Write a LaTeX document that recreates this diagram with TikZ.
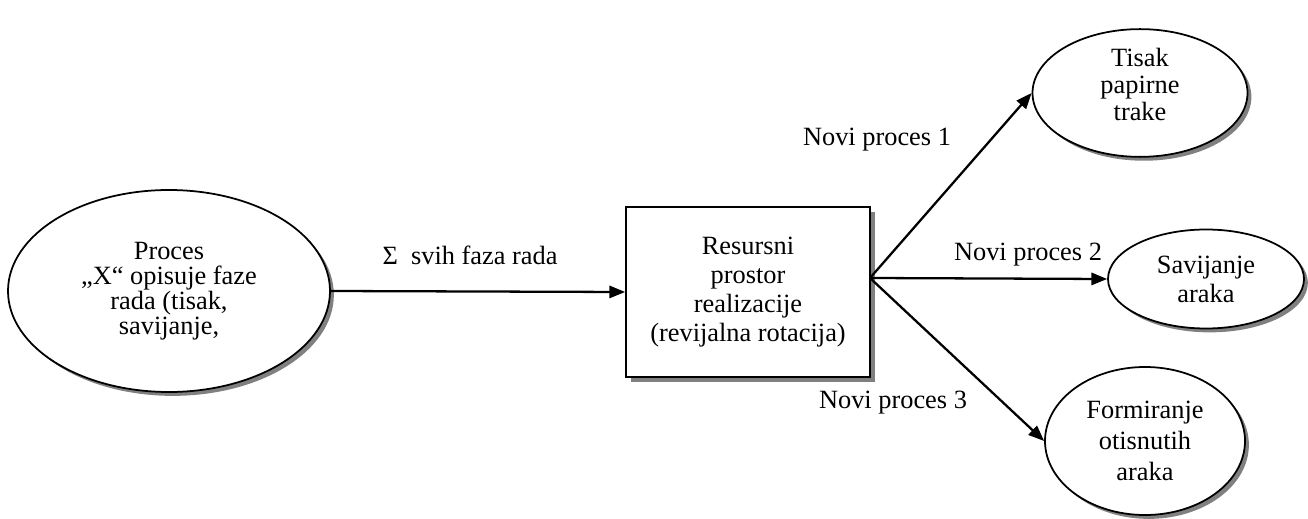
\documentclass[tikz,border=0pt]{standalone}
\usepackage{fontspec}
\setmainfont{Liberation Serif}
\usetikzlibrary{shapes.geometric,shadows,arrows.meta}

\tikzset{
  proc/.style={ellipse, draw, line width=1pt, fill=white, align=center, inner sep=0pt,
    drop shadow={shadow xshift=2.2pt, shadow yshift=-2.2pt, fill=black!50, opacity=1}},
  resbox/.style={rectangle, draw, line width=1pt, fill=white, align=center, inner sep=0pt,
    drop shadow={shadow xshift=2.6pt, shadow yshift=-2.6pt, fill=black!50, opacity=1}},
  lbl/.style={inner sep=0pt},
  >={Triangle[length=9pt,width=7pt]}
}

\begin{document}
\begin{tikzpicture}[font=\fontsize{15}{16.5}\selectfont, line width=1.3pt]
            \useasboundingbox (0, 0) rectangle (26.16, 10.36);

            \node[proc, minimum width=6.44cm, minimum height=4.04cm, font=\fontsize{15}{14.3}\selectfont] (proces) at (3.38, 4.54) {Proces\\„X“ opisuje faze\\rada (tisak,\\savijanje,};
            \node[resbox, minimum width=4.88cm, minimum height=3.40cm] (resurs) at (14.96, 4.52) {Resursni\\prostor\\realizacije\\(revijalna rotacija)};
            \coordinate (fan) at (17.40, 4.80);

            \node[proc, minimum width=4.30cm, minimum height=2.46cm, font=\fontsize{15}{15.5}\selectfont, text depth=10pt] (tisak) at (22.80, 8.50) {Tisak\\papirne\\trake};
            \node[proc, minimum width=3.92cm, minimum height=1.98cm] (savij) at (24.12, 4.78) {Savijanje\\araka};
            \node[proc, minimum width=4.00cm, minimum height=2.96cm, font=\fontsize{15}{17.5}\selectfont] (formir) at (22.90, 1.54) {Formiranje\\otisnutih\\araka};

            \node[lbl] (suma) at (9.40, 5.26) {Σ~ svih faza rada};
            \node[lbl] (novi1) at (17.54, 7.56) {Novi proces 1};
            \node[lbl] (novi2) at (20.56, 5.26) {Novi proces 2};
            \node[lbl] (novi3) at (17.86, 2.30) {Novi proces 3};

            \draw (proces.east) edge[->] (resurs.west)
                (fan) edge[->] (tisak.west)
                (fan) edge[->] (savij.west)
                (fan) edge[->] (formir.west);
        \end{tikzpicture}
\end{document}
